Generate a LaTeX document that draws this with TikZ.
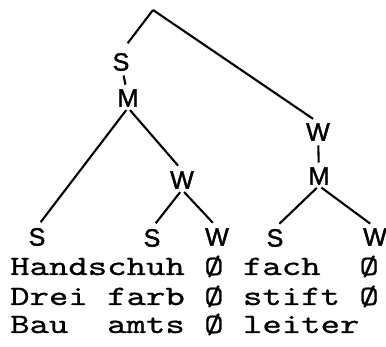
\documentclass[tikz,border=0pt]{standalone}
\usepackage{fontspec}
\newfontfamily\wordfont[FakeStretch=1.32,FakeBold=0.8]{lmmono10-regular.otf}
\newfontfamily\handfont[FakeBold=1.6]{Liberation Sans}
\tikzset{
  lbl/.style={font=\handfont\fontsize{25}{25}\selectfont,inner sep=1pt},
  row/.style={font=\wordfont\fontsize{28}{28}\selectfont,anchor=base west,inner sep=0pt},
  branch/.style={line width=2.1pt,black,shorten <=3pt,shorten >=6pt},
  tick/.style={line width=2.1pt,black,shorten <=3.5pt,shorten >=3.5pt}
}
\begin{document}
\begin{tikzpicture}[x=1pt,y=-1pt]
\useasboundingbox (0,0) rectangle (386,347);
% tree labels
\coordinate (top) at (153,10);
\node[lbl] (s1) at (121,62) {S};
\node[lbl] (m1) at (128,98) {M};
\node[lbl] (w1) at (318,132) {W};
\node[lbl] (m2) at (319,176) {M};
\node[lbl] (w2) at (182,180) {W};
\node[lbl] (s2) at (37,237) {S};
\node[lbl] (s3) at (152,238) {S};
\node[lbl] (w3) at (217,237) {W};
\node[lbl] (s4) at (275,238) {S};
\node[lbl] (w4) at (375,237) {W};
% branches
\draw[branch,shorten <=0pt,shorten >=11pt] (top) -- (s1.north);
\draw[branch,shorten <=0pt] (top) -- (w1.north);
\draw[tick] (s1) -- (m1);
\draw[tick] (w1) -- (m2);
\draw[branch] (m1.south) -- (s2.north);
\draw[branch] (m1.south) -- (w2.north);
\draw[branch] (w2.south) -- (s3.north);
\draw[branch] (w2.south) -- (w3.north);
\draw[branch] (m2.south) -- (s4.north);
\draw[branch] (m2.south) -- (w4.north);
% words
\node[row] (r1) at (10,275) {Handschuh Ø fach\ \ Ø};
\node[row] (r2) at (10,305) {Drei farb Ø stift Ø};
\node[row] (r3) at (10,333) {Bau\ \ amts Ø leiter};
\end{tikzpicture}
\end{document}
